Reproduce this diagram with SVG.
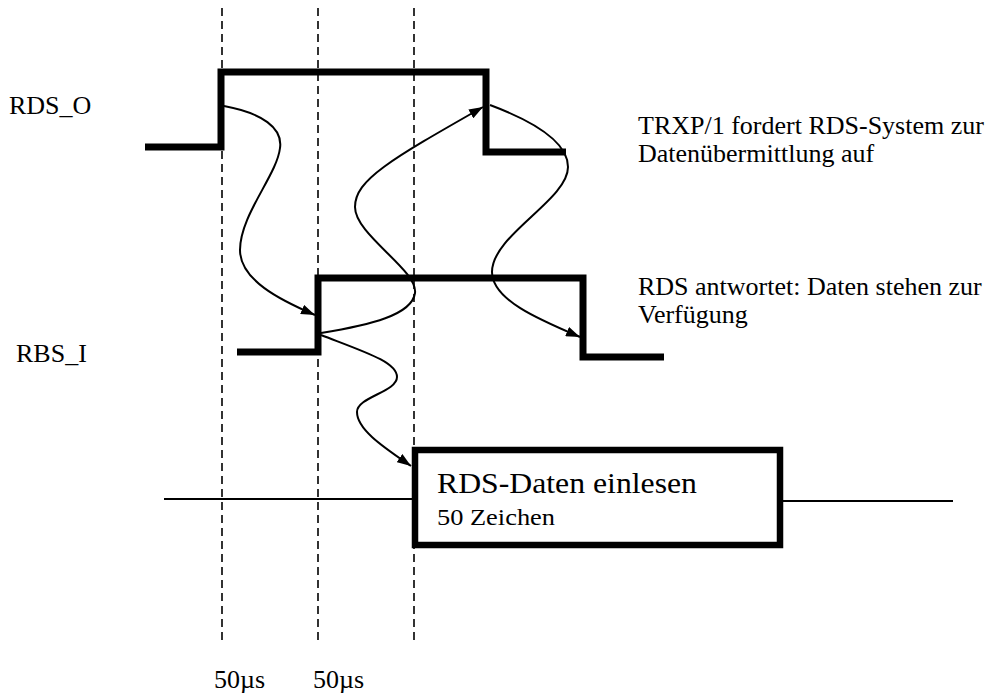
<svg xmlns="http://www.w3.org/2000/svg" width="995" height="695" viewBox="0 0 995 695">
  <style>
    .lbl { font-family: "Liberation Serif", "Times New Roman", serif; fill: #000; }
    .grid { stroke: #000; stroke-width: 1.6; stroke-dasharray: 8 5; fill: none; }
    .wave { stroke: #000; stroke-width: 7; fill: none; stroke-linejoin: miter; stroke-linecap: butt; }
    .flow { stroke: #000; stroke-width: 2; fill: none; marker-end: url(#arrow); }
    .bus { stroke: #000; stroke-width: 1.8; fill: none; }
  </style>
  <defs>
    <marker id="arrow" viewBox="0 0 14 10" refX="14" refY="5" markerWidth="14" markerHeight="10" markerUnits="userSpaceOnUse" orient="auto">
      <path d="M0,0 L14,5 L0,10 z" fill="#000"/>
    </marker>
  </defs>

  <!-- timing grid -->
  <g id="grid">
    <line class="grid" x1="222" y1="8" x2="222" y2="643"/>
    <line class="grid" x1="318" y1="8" x2="318" y2="643"/>
    <line class="grid" x1="414" y1="8" x2="414" y2="643"/>
  </g>

  <!-- data bus line -->
  <g id="bus">
    <line class="bus" x1="164" y1="499" x2="414" y2="499"/>
    <line class="bus" x1="780" y1="501" x2="953" y2="501"/>
  </g>

  <!-- RDS_O signal -->
  <g id="rds_o">
    <polyline class="wave" points="145,147 221,147 221,72 486,72 486,152 566,152"/>
    <text class="lbl" x="9" y="114" font-size="26">RDS_O</text>
  </g>

  <!-- RBS_I signal -->
  <g id="rbs_i">
    <polyline class="wave" points="237,352 318,352 318,278 583,278 583,357 664,357"/>
    <text class="lbl" x="16" y="362" font-size="26">RBS_I</text>
  </g>

  <!-- read block -->
  <g id="read_box">
    <rect x="415" y="450" width="365" height="95" fill="#fff" stroke="#000" stroke-width="6.5"/>
    <text class="lbl" x="437" y="493" font-size="30" textLength="260" lengthAdjust="spacingAndGlyphs">RDS-Daten einlesen</text>
    <text class="lbl" x="437" y="525" font-size="23" textLength="118" lengthAdjust="spacingAndGlyphs">50 Zeichen</text>
  </g>

  <!-- annotations -->
  <g id="note_request">
    <text class="lbl" x="638" y="134" font-size="26">TRXP/1 fordert RDS-System zur</text>
    <text class="lbl" x="638" y="162" font-size="26">Datenübermittlung auf</text>
  </g>
  <g id="note_answer">
    <text class="lbl" x="638" y="295" font-size="26">RDS antwortet: Daten stehen zur</text>
    <text class="lbl" x="638" y="323" font-size="26">Verfügung</text>
  </g>

  <!-- interval labels -->
  <g id="intervals">
    <text class="lbl" x="214" y="688" font-size="26">50µs</text>
    <text class="lbl" x="313" y="688" font-size="26">50µs</text>
  </g>

  <!-- handshake connectors -->
  <g id="connectors">
    <path class="flow" d="M224,106 C262,113 283,128 280,148 C277,175 240,215 240,250 C240,280 280,300 315,315"/>
    <path class="flow" d="M321,333 C370,325 412,315 415,293 C418,270 355,235 355,207 C355,180 390,160 483,107"/>
    <path class="flow" d="M490,105 C530,120 568,140 568,167 C568,200 492,235 492,272 C492,300 540,320 580,337"/>
    <path class="flow" d="M321,335 C365,352 397,362 397,377 C397,392 357,397 357,412 C357,430 385,448 411,466"/>
  </g>
</svg>
